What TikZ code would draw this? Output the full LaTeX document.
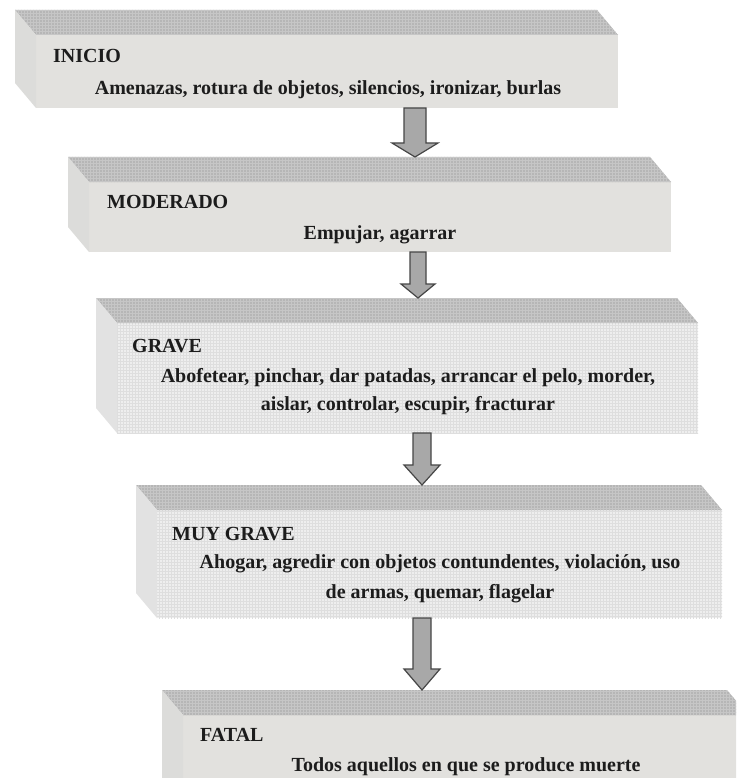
\documentclass[tikz,border=0pt]{standalone}
\usepackage{fontspec}
\setmainfont{Liberation Serif}
\usetikzlibrary{calc,patterns}
\definecolor{topc}{RGB}{182,182,182}
\definecolor{toppat}{RGB}{198,198,198}
\definecolor{sidec}{RGB}{220,220,218}
\definecolor{frontc}{RGB}{226,225,222}
\definecolor{frontg}{RGB}{238,238,238}
\definecolor{frontpat}{RGB}{222,222,222}
\definecolor{sideg}{RGB}{226,226,226}
\definecolor{arrfill}{RGB}{168,168,168}
\definecolor{arrline}{RGB}{70,70,70}
\definecolor{txt}{RGB}{28,28,28}
\tikzset{
  front/.style={rectangle, inner sep=0pt, outer sep=0pt, fill=frontc, anchor=north west},
  frontgrid/.style={front, fill=frontg},
  gridtex/.style={pattern=grid, pattern color=frontpat},
  topface/.style={fill=topc},
  toptex/.style={pattern=grid, pattern color=toppat},
  sideface/.style={fill=sidec},
  sidegrid/.style={fill=sideg},
  head/.style={anchor=base west, inner sep=0pt, text=txt, font=\fontsize{20}{24}\selectfont\bfseries},
  body/.style={anchor=base, inner sep=0pt, text=txt, font=\fontsize{20}{24}\selectfont\bfseries},
  arrowsty/.style={fill=arrfill, draw=arrline, line width=1.2pt, line join=miter},
}
% extruded box faces from a front node: #1 node name, #2 top style, #3 side style
\newcommand{\boxfaces}[3]{%
  \fill[#2] (#1.north west) -- ++(-21,-25) -- ($(#1.north east)+(-21,-25)$) -- (#1.north east) -- cycle;
  \fill[toptex] (#1.north west) -- ++(-21,-25) -- ($(#1.north east)+(-21,-25)$) -- (#1.north east) -- cycle;
  \fill[#3] (#1.north west) -- ++(-21,-25) -- ($(#1.south west)+(-21,-25)$) -- (#1.south west) -- cycle;
}
% block arrow: #1 start, #2 tip, #3 shaft half width, #4 head half width, #5 head length
\newcommand{\blockarr}[5]{%
  \draw[arrowsty] ($(#1)+(-#3,0)$) -- ($(#2)+(-#3,-#5)$) -- ($(#2)+(-#4,-#5)$) -- (#2)
     -- ($(#2)+(#4,-#5)$) -- ($(#2)+(#3,-#5)$) -- ($(#1)+(#3,0)$) -- cycle;
}
\begin{document}
\begin{tikzpicture}[x=1pt,y=-1pt]
\useasboundingbox (0,0) rectangle (736,778);
\clip (0,0) rectangle (736,778);
\fill[white] (0,0) rectangle (736,778);

% boxes (front faces)
\node[front, minimum width=582pt, minimum height=73pt] (f1) at (36,35) {};
\node[front, minimum width=582pt, minimum height=70pt] (f2) at (89,182) {};
\node[frontgrid, minimum width=581pt, minimum height=110pt] (f3) at (117,323) {};
\node[frontgrid, minimum width=565pt, minimum height=108pt] (f4) at (157,510) {};
\node[front, minimum width=565pt, minimum height=90pt] (f5) at (183,715) {};
\fill[gridtex] (f3.north west) rectangle (f3.south east);
\fill[gridtex] (f4.north west) rectangle (f4.south east);

\boxfaces{f1}{topface}{sideface}
\boxfaces{f2}{topface}{sideface}
\boxfaces{f3}{topface}{sidegrid}
\boxfaces{f4}{topface}{sidegrid}
\boxfaces{f5}{topface}{sideface}

% texts
\node[head] (h1) at (53,63) {INICIO};
\node[body] (l1) at (328,95) {Amenazas, rotura de objetos, silencios, ironizar, burlas};
\node[head] (h2) at (107,208) {MODERADO};
\node[body] (l2) at (380,239) {Empujar, agarrar};
\node[head] (h3) at (132,352) {GRAVE};
\node[body] (l3a) at (408,382) {Abofetear, pinchar, dar patadas, arrancar el pelo, morder,};
\node[body] (l3b) at (408,410) {aislar, controlar, escupir, fracturar};
\node[head] (h4) at (172,540) {MUY GRAVE};
\node[body] (l4a) at (440,568) {Ahogar, agredir con objetos contundentes, violación, uso};
\node[body] (l4b) at (440,598) {de armas, quemar, flagelar};
\node[head] (h5) at (200,741) {FATAL};
\node[body] (l5) at (466,771) {Todos aquellos en que se produce muerte};

% arrow connectors
\coordinate (ax1) at (415,0);
\coordinate (ax2) at (418,0);
\coordinate (ax3) at (422,0);
\coordinate (ax4) at (422,0);
\coordinate (t2) at ($(f2.north)+(0,-25)$);
\coordinate (t3) at ($(f3.north)+(0,-25)$);
\coordinate (t4) at ($(f4.north)+(0,-25)$);
\coordinate (t5) at ($(f5.north)+(0,-25)$);
\coordinate (a1s) at (f1.south -| ax1);
\coordinate (a1e) at (t2 -| ax1);
\coordinate (a2s) at (f2.south -| ax2);
\coordinate (a2e) at (t3 -| ax2);
\coordinate (a3s) at (f3.south -| ax3);
\coordinate (a3e) at (t4 -| ax3);
\coordinate (a4s) at (f4.south -| ax4);
\coordinate (a4e) at (t5 -| ax4);
\blockarr{a1s}{a1e}{11}{23}{14}
\blockarr{a2s}{a2e}{8}{17}{14}
\blockarr{a3s}{a3e}{9}{18}{20}
\blockarr{a4s}{a4e}{9}{18}{21}
\end{tikzpicture}
\end{document}
